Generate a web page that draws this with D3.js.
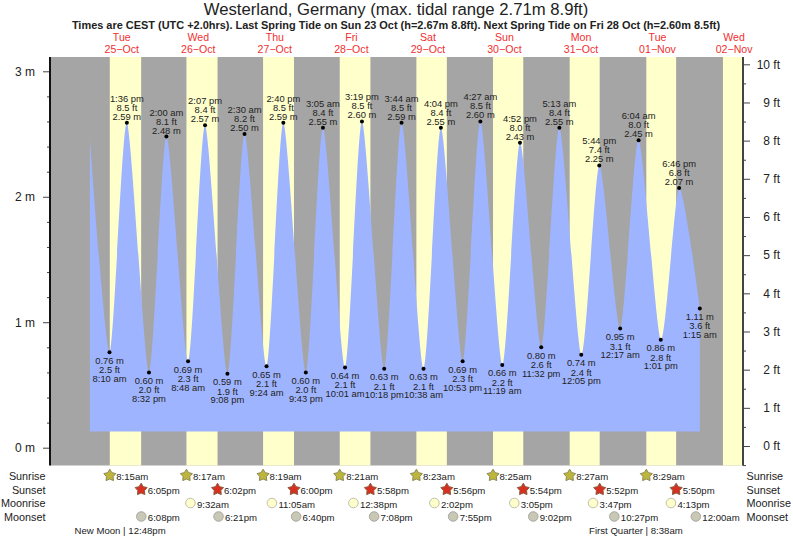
<!DOCTYPE html>
<html>
<head>
<meta charset="utf-8">
<script src="https://cdn.jsdelivr.net/npm/d3@7"></script>
<style>
  html, body { margin: 0; padding: 0; background: #fff; }
  text { font-family: "Liberation Sans", Arial, sans-serif; }
</style>
</head>
<body>
<div id="plot"></div>
<script>
// Tide turning points, local time (CEST all the way through)
const tideTimes = [
  "2022-10-25 08:10", "2022-10-25 13:36", "2022-10-25 20:32",
  "2022-10-26 02:00", "2022-10-26 08:48", "2022-10-26 14:07", "2022-10-26 21:08",
  "2022-10-27 02:30", "2022-10-27 09:24", "2022-10-27 14:40", "2022-10-27 21:43",
  "2022-10-28 03:05", "2022-10-28 10:01", "2022-10-28 15:19", "2022-10-28 22:18",
  "2022-10-29 03:44", "2022-10-29 10:38", "2022-10-29 16:04", "2022-10-29 22:53",
  "2022-10-30 04:27", "2022-10-30 11:19", "2022-10-30 16:52", "2022-10-30 23:32",
  "2022-10-31 05:13", "2022-10-31 12:05", "2022-10-31 17:44",
  "2022-11-01 00:17", "2022-11-01 06:04", "2022-11-01 13:01", "2022-11-01 18:46",
  "2022-11-02 01:15"
];
const tideMetres = [
  0.76, 2.59, 0.60,
  2.48, 0.69, 2.57, 0.59,
  2.50, 0.65, 2.59, 0.60,
  2.55, 0.64, 2.60, 0.63,
  2.59, 0.63, 2.55, 0.69,
  2.60, 0.66, 2.43, 0.80,
  2.55, 0.74, 2.25,
  0.95, 2.45, 0.86, 2.07,
  1.11
];
const tideFeet = [
  2.5, 8.5, 2.0,
  8.1, 2.3, 8.4, 1.9,
  8.2, 2.1, 8.5, 2.0,
  8.4, 2.1, 8.5, 2.1,
  8.5, 2.1, 8.4, 2.3,
  8.5, 2.2, 8.0, 2.6,
  8.4, 2.4, 7.4,
  3.1, 8.0, 2.8, 6.8,
  3.6
];
// curve starts part way down from the previous high, no label there
const tideStart = ["2022-10-25 02:00", 2.47];
const tideBase = 0.13;

const dayNoons = [
  "2022-10-25 12:00", "2022-10-26 12:00", "2022-10-27 12:00", "2022-10-28 12:00", "2022-10-29 12:00",
  "2022-10-30 12:00", "2022-10-31 12:00", "2022-11-01 12:00", "2022-11-02 12:00"
];
const sunrises = [
  "2022-10-25 08:15", "2022-10-26 08:17", "2022-10-27 08:19", "2022-10-28 08:21",
  "2022-10-29 08:23", "2022-10-30 08:25", "2022-10-31 08:27", "2022-11-01 08:29"
];
const sunsets = [
  "2022-10-25 18:05", "2022-10-26 18:02", "2022-10-27 18:00", "2022-10-28 17:58",
  "2022-10-29 17:56", "2022-10-30 17:54", "2022-10-31 17:52", "2022-11-01 17:50"
];
const lastSunrise = "2022-11-02 08:31"; // band only, no icon in this row
const moonrises = [
  "2022-10-26 09:32", "2022-10-27 11:05", "2022-10-28 12:38", "2022-10-29 14:02",
  "2022-10-30 15:05", "2022-10-31 15:47", "2022-11-01 16:13"
];
const moonsets = [
  "2022-10-25 18:08", "2022-10-26 18:21", "2022-10-27 18:40", "2022-10-28 19:08",
  "2022-10-29 19:55", "2022-10-30 21:02", "2022-10-31 22:27", "2022-11-02 00:00"
];
const moonPhases = [["New Moon", "2022-10-25 12:48"], ["First Quarter", "2022-11-01 08:38"]];

const metreTicks = [0, 1, 2, 3];
const metreMinorTicks = [0.2, 0.4, 0.6, 0.8, 1.2, 1.4, 1.6, 1.8, 2.2, 2.4, 2.6, 2.8];
const feetTicks = [0, 1, 2, 3, 4, 5, 6, 7, 8, 9, 10];
const feetMinorTicks = [-0.5, 0.5, 1.5, 2.5, 3.5, 4.5, 5.5, 6.5, 7.5, 8.5, 9.5];

const titleText = "Westerland, Germany (max. tidal range 2.71m 8.9ft)";
const subtitleText = "Times are CEST (UTC +2.0hrs). Last Spring Tide on Sun 23 Oct (h=2.67m 8.8ft). Next Spring Tide on Fri 28 Oct (h=2.60m 8.5ft)";
const rowNames = ["Sunrise", "Sunset", "Moonrise", "Moonset"];

// Set up dimensions and scales
const width = 793, height = 539;
const plotLeft = 50, plotRight = 743, plotTop = 57, plotBottom = 465.5;
const parseTime = d3.utcParse("%Y-%m-%d %H:%M");

const x = d3.scaleUtc()
  .domain([parseTime("2022-10-24 13:30"), parseTime("2022-11-02 14:48")])
  .range([plotLeft, plotRight]);
const yM = d3.scaleLinear().domain([0, 3]).range([447.7, 71.3]);
const yFt = d3.scaleLinear().domain([0, 10]).range([446, 64.3]);

const svg = d3.select("#plot").append("svg")
  .attr("width", width)
  .attr("height", height)
  .style("display", "block");

// Night background and daylight bands
svg.append("rect")
  .attr("x", plotLeft).attr("y", plotTop)
  .attr("width", plotRight - plotLeft).attr("height", plotBottom - plotTop)
  .attr("fill", "#a5a5a5");

const bands = sunrises.map((d, i) => [parseTime(d), parseTime(sunsets[i])]);
bands.push([parseTime(lastSunrise), x.domain()[1]]);
svg.selectAll("rect.day").data(bands).enter().append("rect")
  .attr("class", "day")
  .attr("x", d => x(d[0]))
  .attr("y", plotTop)
  .attr("width", d => x(d[1]) - x(d[0]))
  .attr("height", plotBottom - plotTop)
  .attr("fill", "#ffffcc");

// Tide area
const tidePoints = tideTimes.map((d, i) => ({
  time: parseTime(d), m: tideMetres[i], ft: tideFeet[i],
  high: tideMetres[i] > 1.5
}));
const area = d3.area()
  .x(d => x(d.time))
  .y0(yM(tideBase))
  .y1(d => yM(d.m))
  .curve(d3.curveCardinal.tension(0.3)); // peaks are quite pointy in the reference
svg.append("path")
  .datum([{ time: parseTime(tideStart[0]), m: tideStart[1] }].concat(tidePoints))
  .attr("d", area)
  .attr("fill", "#9fb4ff");

// Turning point dots and their three line labels
const fmtTide = d3.utcFormat("%-I:%M %p");
const tideLabel = d => fmtTide(d.time).toLowerCase();
svg.selectAll("circle.tide").data(tidePoints).enter().append("circle")
  .attr("class", "tide")
  .attr("cx", d => x(d.time))
  .attr("cy", d => yM(d.m))
  .attr("r", 2)
  .attr("fill", "#000");

const lineOffsets = { high: [-21, -12, -3], low: [11.5, 21, 29.5] };
const labels = svg.append("g")
  .attr("text-anchor", "middle")
  .attr("font-size", 9.4)
  .attr("fill", "#222");
tidePoints.forEach(d => {
  const lines = d.high
    ? [tideLabel(d), d.ft.toFixed(1) + " ft", d.m.toFixed(2) + " m"]
    : [d.m.toFixed(2) + " m", d.ft.toFixed(1) + " ft", tideLabel(d)];
  const offs = d.high ? lineOffsets.high : lineOffsets.low;
  lines.forEach((t, i) => {
    labels.append("text")
      .attr("x", x(d.time))
      .attr("y", yM(d.m) + offs[i])
      .text(t);
  });
});

// Axes
const axisLeft = svg.append("g").attr("transform", `translate(${plotLeft},0)`);
axisLeft.append("g")
  .call(d3.axisLeft(yM).tickValues(metreMinorTicks).tickSize(3).tickSizeOuter(0).tickFormat(""))
  .call(g => g.select(".domain").remove())
  .selectAll("line").attr("stroke", "#444");
axisLeft.append("g")
  .call(d3.axisLeft(yM).tickValues(metreTicks).tickSize(7).tickPadding(8).tickFormat(d => d + " m"))
  .call(g => g.select(".domain").remove())
  .call(g => g.selectAll("line").attr("stroke", "#444"))
  .call(g => g.selectAll("text").attr("font-size", 12).attr("font-family", null).attr("fill", "#222"));
axisLeft.append("line")
  .attr("y1", plotTop).attr("y2", plotBottom)
  .attr("stroke", "#111").attr("stroke-width", 2);

const axisRight = svg.append("g").attr("transform", `translate(${plotRight},0)`);
axisRight.append("g")
  .call(d3.axisRight(yFt).tickValues(feetMinorTicks).tickSize(3).tickSizeOuter(0).tickFormat(""))
  .call(g => g.select(".domain").remove())
  .selectAll("line").attr("stroke", "#444");
axisRight.append("g")
  .call(d3.axisRight(yFt).tickValues(feetTicks).tickSize(7).tickPadding(7).tickFormat(d => d + " ft"))
  .call(g => g.select(".domain").remove())
  .call(g => g.selectAll("line").attr("stroke", "#444"))
  .call(g => g.selectAll("text")
    .attr("font-size", 12).attr("font-family", null).attr("fill", "#222")
    .attr("text-anchor", "end").attr("x", 37));
axisRight.append("line")
  .attr("y1", plotTop).attr("y2", plotBottom)
  .attr("stroke", "#444").attr("stroke-width", 2);

// Titles
svg.append("text")
  .attr("x", 396).attr("y", 15)
  .attr("text-anchor", "middle")
  .attr("font-size", 16.7)
  .attr("fill", "#222")
  .text(titleText);
svg.append("text")
  .attr("x", 396).attr("y", 29)
  .attr("text-anchor", "middle")
  .attr("font-size", 10.95)
  .attr("font-weight", "bold")
  .attr("fill", "#222")
  .text(subtitleText);

// Day names on top
const fmtDay = d3.utcFormat("%a"), fmtDate = d3.utcFormat("%d");
const fmtMonth = d3.utcFormat("%b");
const dayLabels = svg.append("g")
  .attr("text-anchor", "middle")
  .attr("font-size", 10.6)
  .attr("fill", "#f03030");
dayNoons.map(parseTime).forEach(d => {
  dayLabels.append("text").attr("x", x(d)).attr("y", 41).text(fmtDay(d));
  dayLabels.append("text").attr("x", x(d)).attr("y", 53).text(fmtDate(d) + "\u2212" + fmtMonth(d));
});

// Sun and moon rows under the plot
const rowY = [475.5, 489.5, 503, 516.5];
const rowText = svg.append("g").attr("font-size", 10.8).attr("fill", "#222");
rowNames.forEach((name, i) => {
  rowText.append("text").attr("x", 45.5).attr("y", rowY[i] + 4)
    .attr("text-anchor", "end").text(name);
  rowText.append("text").attr("x", 746.5).attr("y", rowY[i] + 4).text(name);
});

const fmtRow = d3.utcFormat("%-I:%M%p");
// fat five pointed star, alternating outer and inner radius
const star = d3.lineRadial()
  .angle((d, i) => i * Math.PI / 5)
  .radius((d, i) => i % 2 ? 3.5 : 6.3)
  .curve(d3.curveLinearClosed);
function drawRow(times, rowIndex, drawIcon) {
  const g = svg.append("g");
  times.map(parseTime).forEach(t => {
    drawIcon(g, x(t), rowY[rowIndex]);
    g.append("text")
      .attr("x", x(t) + 6.5)
      .attr("y", rowY[rowIndex] + 4.5)
      .attr("font-size", 9.6)
      .attr("fill", "#222")
      .text(fmtRow(t).toLowerCase());
  });
}
const starIcon = (fill, edge) => (g, cx, cy) => g.append("path")
  .attr("d", star(d3.range(10)))
  .attr("transform", `translate(${cx},${cy})`)
  .attr("fill", fill).attr("stroke", edge).attr("stroke-width", 1);
const moonIcon = (fill, edge) => (g, cx, cy) => g.append("circle")
  .attr("cx", cx).attr("cy", cy).attr("r", 4.8)
  .attr("fill", fill).attr("stroke", edge).attr("stroke-width", 0.8);

drawRow(sunrises, 0, starIcon("#bdb63a", "#8c8a55"));
drawRow(sunsets, 1, starIcon("#d83020", "#8a5a40"));
drawRow(moonrises, 2, moonIcon("#ffffcc", "#b0b0a0"));
drawRow(moonsets, 3, moonIcon("#c8c8b4", "#999"));

// Moon phases, the bar sits on the exact time
const phases = svg.append("g").attr("font-size", 9.6).attr("fill", "#222");
moonPhases.forEach(([name, when]) => {
  const t = parseTime(when);
  phases.append("text").attr("x", x(t) + 1.3).attr("y", 534).attr("text-anchor", "end").text(name + " |");
  phases.append("text").attr("x", x(t) + 4).attr("y", 534).text(fmtRow(t).toLowerCase());
});
</script>
</body>
</html>
